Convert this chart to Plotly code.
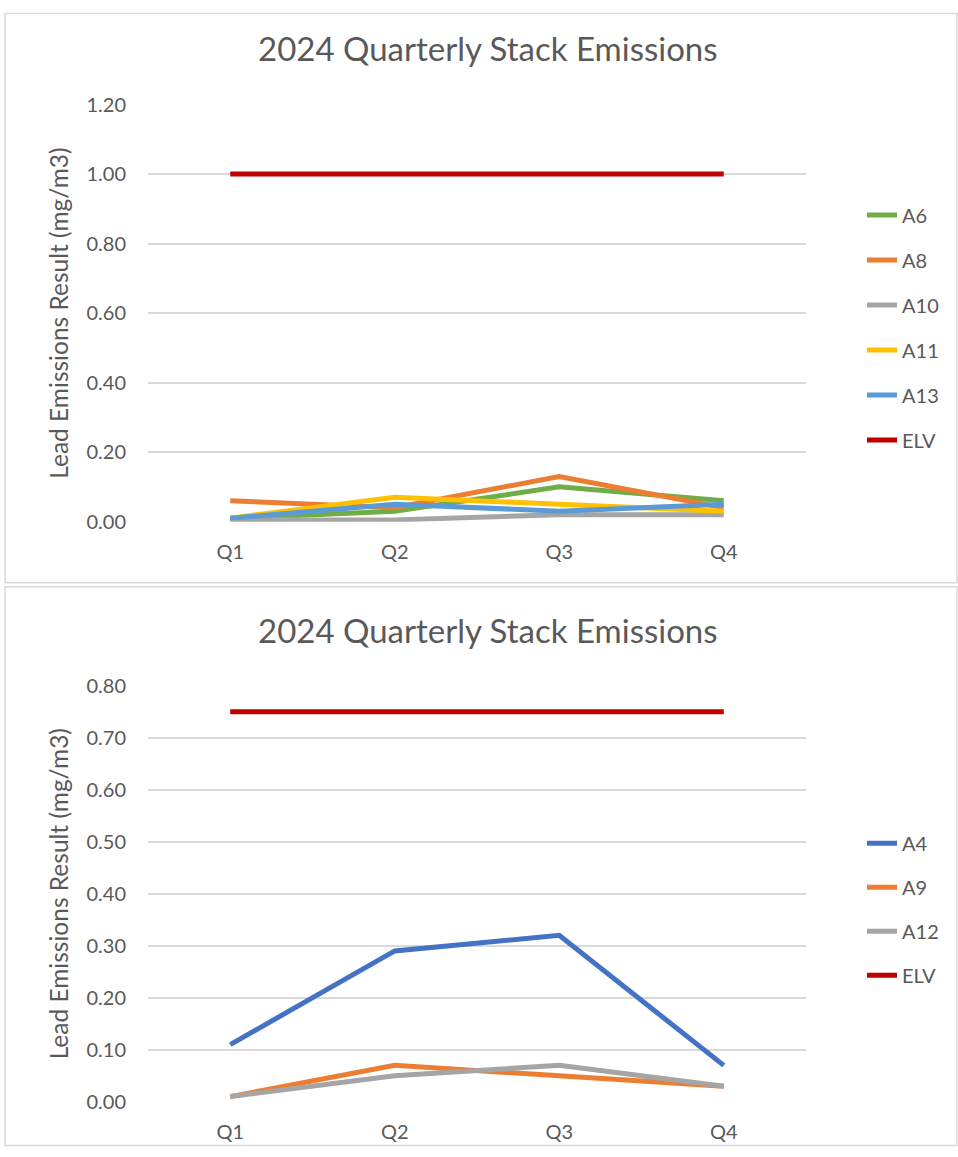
import plotly.graph_objects as go

quarters = ["Q1", "Q2", "Q3", "Q4"]

# Top chart
top_names = ["A6", "A8", "A10", "A11", "A13", "ELV"]
top_A6 = [0.01, 0.03, 0.10, 0.06]
top_A8 = [0.06, 0.04, 0.13, 0.04]
top_A10 = [0.005, 0.005, 0.02, 0.02]
top_A11 = [0.01, 0.07, 0.05, 0.03]
top_A13 = [0.01, 0.05, 0.03, 0.05]
top_ELV = [1.00, 1.00, 1.00, 1.00]
top_values = [top_A6, top_A8, top_A10, top_A11, top_A13, top_ELV]
top_colors = ["#70AD47", "#ED7D31", "#A5A5A5", "#FFC000", "#5B9BD5", "#C00000"]

# Bottom chart
bot_names = ["A4", "A9", "A12", "ELV"]
bot_A4 = [0.11, 0.29, 0.32, 0.07]
bot_A9 = [0.01, 0.07, 0.05, 0.03]
bot_A12 = [0.01, 0.05, 0.07, 0.03]
bot_ELV = [0.75, 0.75, 0.75, 0.75]
bot_values = [bot_A4, bot_A9, bot_A12, bot_ELV]
bot_colors = ["#4472C4", "#ED7D31", "#A5A5A5", "#C00000"]

title_text = "2024 Quarterly Stack Emissions"
ytitle = "Lead Emissions Result (mg/m3)"

W, H = 958, 1157
# observed vertical mapping of the photographed page: shown = SCALE*fig + SHIFT
SCALE, SHIFT = 0.979, 12.5
FONT = "Lato"
TXT = "#595959"

fig = go.Figure()
for n, v, c in zip(top_names, top_values, top_colors):
    fig.add_trace(go.Scatter(x=quarters, y=v, name=n, mode="lines",
                             line=dict(color=c, width=5),
                             xaxis="x", yaxis="y", legend="legend",
                             legendgroup="t" + n))
for n, v, c in zip(bot_names, bot_values, bot_colors):
    fig.add_trace(go.Scatter(x=quarters, y=v, name=n, mode="lines",
                             line=dict(color=c, width=5),
                             xaxis="x2", yaxis="y2", legend="legend2",
                             legendgroup="b" + n))

def px_x(p):
    return p / W

def fy(p):
    return (p - SHIFT) / SCALE

def px_y(p):
    return min(1.0, max(0.0, 1 - fy(p) / H))

xdom = [px_x(148), px_x(806)]
common_x = dict(domain=xdom, range=[-0.5, 3.5], showgrid=False, zeroline=False,
                showline=False, ticks="", ticklabelstandoff=16,
                tickfont=dict(family=FONT, size=20, color=TXT),
                fixedrange=True)
common_y = dict(showgrid=True, gridcolor="#D9D9D9", gridwidth=2, zeroline=False,
                showline=False, ticks="", tickformat=".2f", ticklabelstandoff=21,
                tickfont=dict(family=FONT, size=20, color=TXT),
                title=dict(text=ytitle, font=dict(family=FONT, size=24.5, color=TXT), standoff=10))

fig.update_layout(
    width=W, height=H,
    margin=dict(l=0, r=0, t=0, b=0),
    paper_bgcolor="white", plot_bgcolor="white",
    xaxis=dict(common_x, anchor="y"),
    yaxis=dict(common_y, domain=[px_y(521), px_y(104)], range=[0, 1.2], dtick=0.2, anchor="x"),
    xaxis2=dict(common_x, anchor="y2"),
    yaxis2=dict(common_y, domain=[px_y(1101), px_y(685)], range=[0, 0.8], dtick=0.1, anchor="x2"),
    legend=dict(x=px_x(862), y=1 - 186.4 / H, xanchor="left", yanchor="top",
                font=dict(family=FONT, size=20, color=TXT), tracegroupgap=16,
                bgcolor="rgba(0,0,0,0)"),
    legend2=dict(x=px_x(862), y=1 - 827.9 / H, xanchor="left", yanchor="top",
                 font=dict(family=FONT, size=20, color=TXT), tracegroupgap=15,
                 bgcolor="rgba(0,0,0,0)"),
    showlegend=True,
    shapes=[
        dict(type="rect", xref="paper", yref="paper", x0=px_x(5), x1=px_x(957),
             y0=px_y(582), y1=0.9995, line=dict(color="#D9D9D9", width=1.5)),
        dict(type="rect", xref="paper", yref="paper", x0=px_x(5), x1=px_x(957),
             y0=0.0005, y1=px_y(586), line=dict(color="#D9D9D9", width=1.5)),
    ],
    annotations=[
        dict(text=title_text, xref="paper", yref="paper", x=px_x(488), y=1 - 36.2 / H,
             xanchor="center", yanchor="middle", showarrow=False,
             font=dict(family=FONT, size=33, color=TXT)),
        dict(text=title_text, xref="paper", yref="paper", x=px_x(488), y=1 - 630 / H,
             xanchor="center", yanchor="middle", showarrow=False,
             font=dict(family=FONT, size=33, color=TXT)),
    ],
)

post = (
    "var h=document.documentElement.style;h.margin='0';h.padding='0';h.overflow='hidden';"
    "var b=document.body.style;b.margin='0';b.padding='0';b.overflow='hidden';"
)
fig.write_html("out.html", post_script=post, config={"displayModeBar": False})
